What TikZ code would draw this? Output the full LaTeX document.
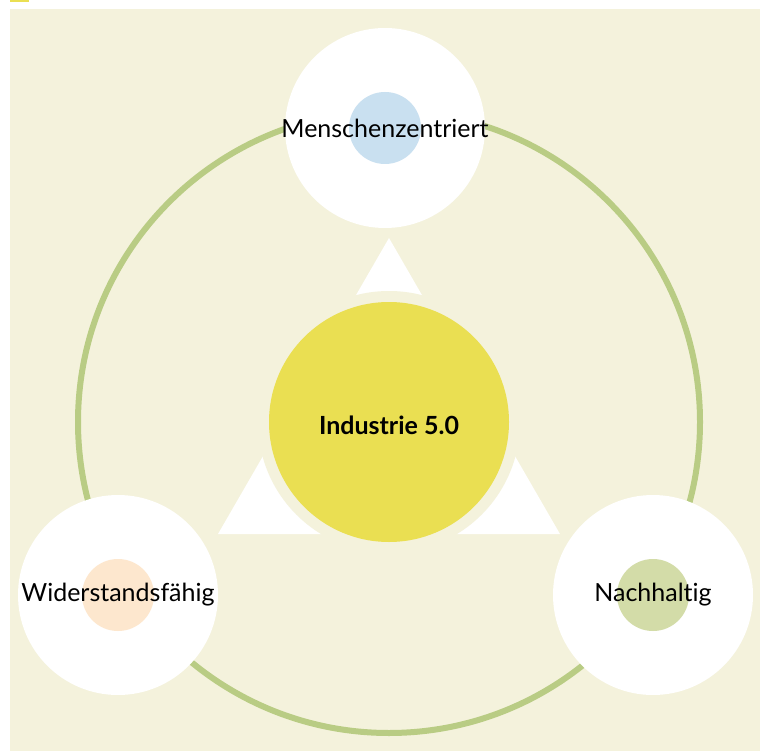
\documentclass[tikz,border=0pt]{standalone}
\usepackage{fontspec}
\setmainfont{Lato}[Ligatures={NoCommon}]
\definecolor{bgbeige}{HTML}{F4F2DC}
\definecolor{ringgreen}{HTML}{B9CC84}
\definecolor{coreyellow}{HTML}{EADF52}
\definecolor{dotblue}{HTML}{C9E0F0}
\definecolor{dotpeach}{HTML}{FDE7CE}
\definecolor{dotgreen}{HTML}{D3DCA8}
\begin{document}
\begin{tikzpicture}[x=1pt,y=-1pt,
  pillar/.style={circle,fill=white,minimum size=200pt,inner sep=0pt},
  dot/.style={circle,minimum size=72pt,inner sep=0pt},
  lbl/.style={font=\fontsize{25}{28}\selectfont,text=black,inner sep=0pt}]
\useasboundingbox (0,0) rectangle (768,751);
\fill[bgbeige] (10,9) rectangle (760,751);
\fill[coreyellow] (10,0) rectangle (29,2);
% ring
\draw[ringgreen,line width=6pt] (389,422) circle (311);
% triangle
\fill[white] (389,238) -- (560,534) -- (218,534) -- cycle;
\fill[bgbeige] (389,422) circle (131);
\node[circle,fill=coreyellow,minimum size=240pt,inner sep=0pt] (core) at (389,422) {};
\node[font=\bfseries\fontsize{25}{28}\selectfont,text=black] at (389,425) {Industrie 5.0};
% pillars
\node[pillar] (top) at (385,128) {};
\node[dot,fill=dotblue] (topdot) at (top) {};
\node[lbl] at (top) {Menschenzentriert};
\node[pillar] (left) at (118,595) {};
\node[dot,fill=dotpeach] (leftdot) at (left) {};
\node[lbl] at (left) {Widerstandsfähig};
\node[pillar] (right) at (653,595) {};
\node[dot,fill=dotgreen] (rightdot) at (right) {};
\node[lbl] at (right) {Nachhaltig};
\end{tikzpicture}
\end{document}
